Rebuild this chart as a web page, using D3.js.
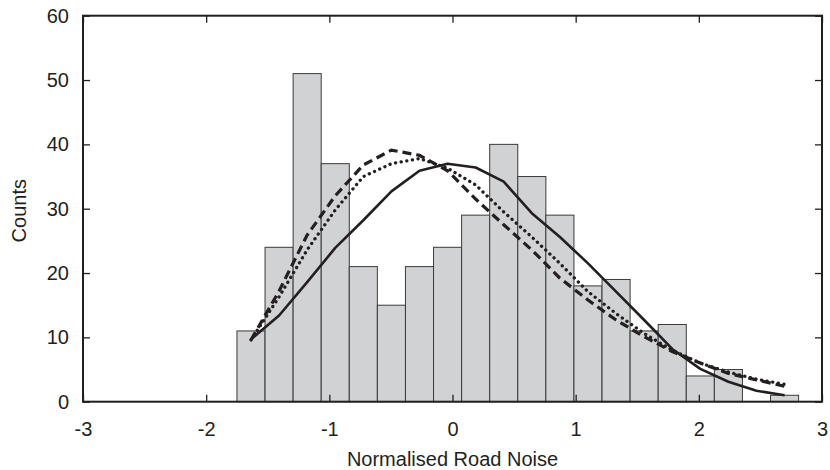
<!DOCTYPE html>
<html><head><meta charset="utf-8">
<script src="https://cdn.jsdelivr.net/npm/d3@7"></script>
<style>body{margin:0;background:#fff}svg{display:block}text{font-family:"Liberation Sans",Arial,sans-serif;fill:#231f20}</style>
</head><body><svg id="c" width="830" height="470"></svg>
<script>
const binStart = -1.75;
const binWidth = 0.228;
const counts = [11, 24, 51, 37, 21, 15, 21, 24, 29, 40, 35, 29, 18, 19, 11, 12, 4, 5, 0, 1];
const solidFit = [9.7, 13.4, 18.6, 23.9, 28.2, 32.7, 35.9, 37.0, 36.4, 34.2, 29.3, 25.6, 21.5, 17.1, 12.7, 8.2, 5.1, 3.1, 1.7, 1.0];
const dashedFit = [9.6, 17.2, 25.9, 32.0, 36.8, 39.1, 38.3, 35.9, 31.5, 27.5, 23.6, 19.2, 15.8, 12.7, 10.1, 7.8, 6.0, 4.4, 3.4, 2.4];
const dottedFit = [9.6, 16.3, 23.6, 29.8, 35.0, 37.0, 37.8, 36.3, 33.7, 29.5, 25.6, 21.5, 17.1, 13.7, 10.6, 8.0, 6.0, 4.6, 3.5, 2.7];
const xTicks = [-3, -2, -1, 0, 1, 2, 3];
const yTicks = [0, 10, 20, 30, 40, 50, 60];
const xTitle = "Normalised Road Noise";
const yTitle = "Counts";

const L = 83, R = 822, T = 15.7, B = 401.7;
const svg = d3.select("#c");
const x = d3.scaleLinear().domain([-3, 3]).range([L, R]);
const y = d3.scaleLinear().domain([0, 60]).range([B, T]);
const ink = "#231f20";
const fs = 20;

// bars
svg.append("g").selectAll("rect").data(counts).join("rect")
  .attr("x", (d, i) => x(binStart + i * binWidth))
  .attr("width", x(binStart + binWidth) - x(binStart))
  .attr("y", d => y(d))
  .attr("height", d => y(0) - y(d))
  .attr("fill", d => d > 0 ? "#d1d2d4" : "none")
  .attr("stroke", d => d > 0 ? "#3a3a3a" : "none")
  .attr("stroke-width", 1);

const centers = counts.map((d, i) => binStart + (i + 0.5) * binWidth);
const line = d3.line().x((d, i) => x(centers[i])).y(d => y(d));

svg.append("path").datum(solidFit).attr("d", line)
  .attr("fill", "none").attr("stroke", ink).attr("stroke-width", 2.6).attr("stroke-linejoin", "round");
svg.append("path").datum(dottedFit).attr("d", line)
  .attr("fill", "none").attr("stroke", ink).attr("stroke-width", 3.3)
  .attr("stroke-dasharray", "0.1 5.6").attr("stroke-linecap", "round");
svg.append("path").datum(dashedFit).attr("d", line)
  .attr("fill", "none").attr("stroke", ink).attr("stroke-width", 3.2)
  .attr("stroke-dasharray", "9 5");

// axes with inward ticks
const fmt = d => String(d);
const ax = svg.append("g").attr("transform", `translate(0,${B})`)
  .call(d3.axisBottom(x).tickValues(xTicks).tickFormat(fmt).tickSizeInner(-7).tickSizeOuter(0).tickPadding(20));
const ay = svg.append("g").attr("transform", `translate(${L},0)`)
  .call(d3.axisLeft(y).tickValues(yTicks).tickFormat(fmt).tickSizeInner(-7).tickSizeOuter(0).tickPadding(14));
const at = svg.append("g").attr("transform", `translate(0,${T})`)
  .call(d3.axisTop(x).tickValues(xTicks).tickFormat("").tickSizeInner(-7).tickSizeOuter(0));
const ar = svg.append("g").attr("transform", `translate(${R},0)`)
  .call(d3.axisRight(y).tickValues(yTicks).tickFormat("").tickSizeInner(-7).tickSizeOuter(0));
[ax, ay, at, ar].forEach(g => {
  g.select(".domain").remove();
  g.selectAll(".tick line").attr("stroke", ink).attr("stroke-width", 1.3);
  g.selectAll(".tick text").attr("font-size", fs).attr("font-family", "Liberation Sans, Arial, sans-serif").attr("fill", ink);
});
ax.selectAll(".tick text").attr("dy", "0.71em");

svg.append("rect").attr("x", L).attr("y", T).attr("width", R - L).attr("height", B - T)
  .attr("fill", "none").attr("stroke", ink).attr("stroke-width", 2);

svg.append("text").attr("x", (L + R) / 2).attr("y", 466).attr("text-anchor", "middle")
  .attr("font-size", fs).text(xTitle);
svg.append("text").attr("transform", `translate(26,${(T + B) / 2 + 2}) rotate(-90)`)
  .attr("text-anchor", "middle").attr("font-size", fs).text(yTitle);
</script></body></html>
